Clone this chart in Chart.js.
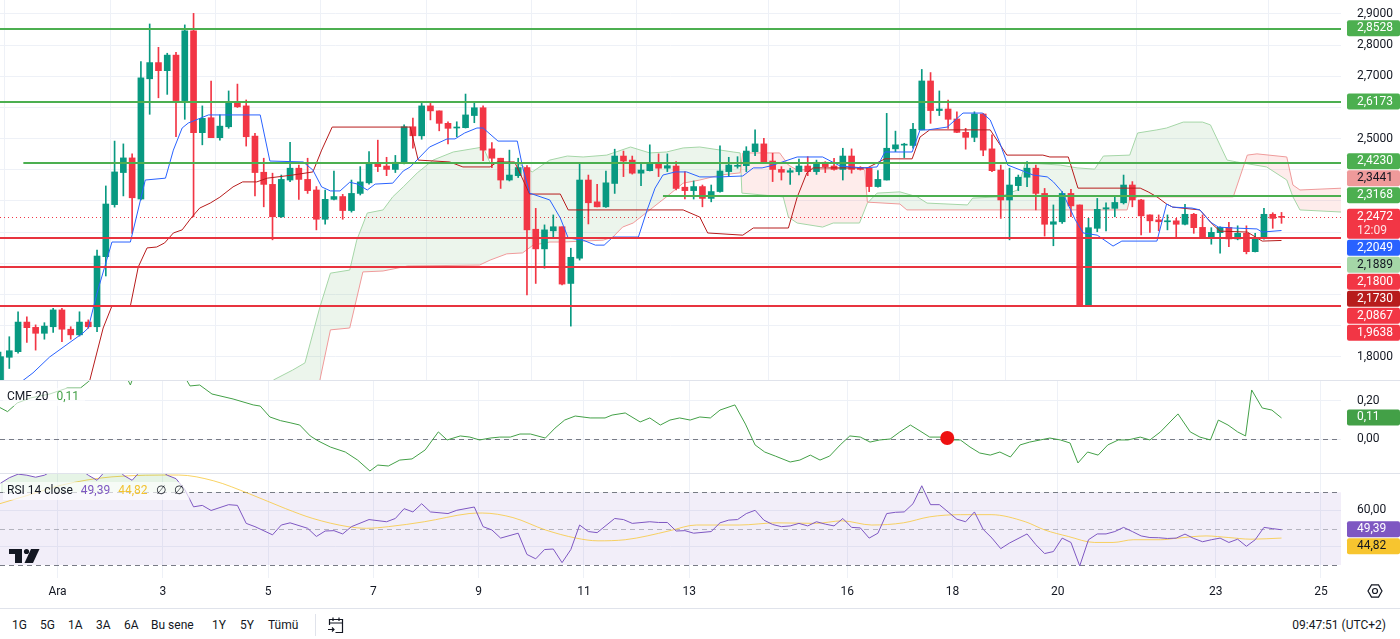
<!DOCTYPE html>
<html lang="tr">
<head>
<meta charset="utf-8">
<title>4s grafik</title>
<script src="https://cdn.jsdelivr.net/npm/chart.js@4.4.1/dist/chart.umd.min.js"></script>
<style>
  html, body { margin: 0; padding: 0; background: #fff; }
  #page { position: relative; width: 1400px; height: 639px; overflow: hidden;
          font-family: Roboto, "Noto Sans", sans-serif; color: #131722; }
  canvas { position: absolute; left: 0; }
  .sep { position: absolute; left: 0; width: 1400px; height: 1px; background: #e0e3eb; }
  .tb { position: absolute; top: 617px; font-size: 12px; line-height: 16px; color: #131722; white-space: nowrap; }
</style>
</head>
<body>
<div id="page">
  <canvas id="price" width="1400" height="380" style="top:0"></canvas>
  <div class="sep" style="top:380px"></div>
  <canvas id="cmf" width="1400" height="92" style="top:381px"></canvas>
  <div class="sep" style="top:473px"></div>
  <canvas id="rsi" width="1400" height="131" style="top:474px"></canvas>
  <div class="sep" style="top:608px"></div>

  <span class="tb" style="left:12px">1G</span>
  <span class="tb" style="left:40px">5G</span>
  <span class="tb" style="left:68px">1A</span>
  <span class="tb" style="left:96px">3A</span>
  <span class="tb" style="left:124px">6A</span>
  <span class="tb" style="left:151px">Bu sene</span>
  <span class="tb" style="left:212px">1Y</span>
  <span class="tb" style="left:240px">5Y</span>
  <span class="tb" style="left:268px">Tümü</span>
  <div style="position:absolute;left:315px;top:614px;width:1px;height:22px;background:#e0e3eb"></div>
  <svg style="position:absolute;left:325px;top:614px" width="22" height="22" viewBox="0 0 22 22" fill="none" stroke="#131722" stroke-width="1.2">
    <path d="M4.5 11V5.5h13v13h-7"/><path d="M8 3.5v3.5M14 3.5v3.5M4.5 9h13"/><path d="M3 15.5h6M7 13.5l2 2-2 2"/>
  </svg>
  <span class="tb" style="right:14px">09:47:51 (UTC+2)</span>
</div>

<script>
// 4 saatlik mumlar; bar 0 = 1 Ara 02:00 (UTC+2), bir gün = 6 bar
var firstBar = -7;

var opens = [
  1.693,1.798,1.816,1.911,1.894,1.875,1.896,1.950,1.888,1.870,
  1.911,1.896,2.121,2.288,2.391,2.438,2.306,2.692,2.744,2.718,
  2.768,2.622,2.846,2.519,2.567,2.503,2.538,2.617,2.605,2.508,
  2.392,2.353,2.249,2.367,2.405,2.369,2.335,2.241,2.305,2.314,
  2.269,2.324,2.358,2.421,2.412,2.401,2.421,2.538,2.509,2.605,
  2.589,2.549,2.534,2.535,2.574,2.599,2.467,2.437,2.367,2.381,
  2.407,2.209,2.146,2.204,2.217,2.035,2.116,2.367,2.297,2.281,
  2.356,2.444,2.431,2.389,2.397,2.421,2.405,2.412,2.344,2.333,
  2.346,2.308,2.330,2.394,2.411,2.413,2.458,2.483,2.428,2.401,
  2.392,2.394,2.412,2.394,2.424,2.412,2.401,2.444,2.407,2.405,
  2.346,2.367,2.467,2.479,2.478,2.528,2.685,2.590,2.595,2.563,
  2.520,2.504,2.579,2.467,2.399,2.303,2.349,2.376,2.405,2.324,
  2.225,2.233,2.324,2.287,1.964,2.212,2.274,2.276,2.294,2.351,
  2.303,2.255,2.239,2.233,2.236,2.225,2.257,2.215,2.185,2.198,
  2.215,2.178,2.196,2.137,2.180,2.257,2.249];
var highs = [
  1.815,1.864,1.944,1.928,1.902,1.909,1.955,1.955,1.896,1.944,
  1.918,2.142,2.348,2.492,2.483,2.451,2.747,2.868,2.793,2.774,
  2.777,2.865,2.902,2.605,2.685,2.576,2.653,2.675,2.624,2.517,
  2.437,2.389,2.383,2.488,2.415,2.437,2.346,2.335,2.396,2.321,
  2.367,2.410,2.458,2.495,2.440,2.446,2.544,2.566,2.613,2.613,
  2.589,2.554,2.554,2.643,2.617,2.605,2.487,2.437,2.463,2.437,
  2.413,2.276,2.223,2.255,2.217,2.148,2.419,2.383,2.353,2.396,
  2.466,2.460,2.444,2.424,2.480,2.451,2.451,2.426,2.394,2.364,
  2.351,2.351,2.477,2.440,2.442,2.474,2.528,2.501,2.453,2.410,
  2.405,2.434,2.442,2.431,2.426,2.437,2.469,2.467,2.410,2.407,
  2.397,2.581,2.524,2.485,2.549,2.722,2.712,2.653,2.624,2.586,
  2.533,2.586,2.581,2.512,2.415,2.405,2.383,2.426,2.415,2.340,
  2.287,2.330,2.337,2.287,2.244,2.308,2.294,2.312,2.383,2.362,
  2.305,2.255,2.255,2.255,2.244,2.289,2.260,2.255,2.214,2.217,
  2.231,2.220,2.220,2.196,2.276,2.262,2.263];
var lows = [
  1.680,1.762,1.811,1.846,1.821,1.856,1.878,1.848,1.856,1.866,
  1.891,1.880,2.059,2.280,2.316,2.196,2.303,2.578,2.631,2.642,
  2.506,2.562,2.249,2.480,2.503,2.495,2.533,2.600,2.476,2.316,
  2.281,2.175,2.247,2.362,2.305,2.324,2.207,2.225,2.303,2.241,
  2.264,2.319,2.354,2.394,2.381,2.391,2.419,2.469,2.498,2.560,
  2.525,2.483,2.506,2.534,2.551,2.429,2.407,2.340,2.364,2.375,
  1.998,2.035,2.084,2.180,2.030,1.898,2.110,2.226,2.281,2.279,
  2.324,2.378,2.386,2.349,2.396,2.378,2.394,2.335,2.306,2.306,
  2.281,2.297,2.328,2.378,2.405,2.394,2.445,2.421,2.362,2.367,
  2.353,2.383,2.381,2.385,2.391,2.399,2.367,2.389,2.399,2.330,
  2.344,2.367,2.458,2.439,2.469,2.528,2.549,2.574,2.533,2.519,
  2.466,2.490,2.445,2.394,2.244,2.175,2.333,2.346,2.271,2.187,
  2.156,2.228,2.249,1.964,1.964,2.201,2.204,2.249,2.290,2.281,
  2.191,2.199,2.204,2.207,2.182,2.223,2.196,2.183,2.161,2.132,
  2.153,2.175,2.130,2.136,2.177,2.212,2.228];
var closes = [
  1.800,1.819,1.911,1.893,1.875,1.898,1.950,1.888,1.870,1.911,
  1.896,2.123,2.290,2.393,2.438,2.310,2.695,2.744,2.718,2.768,
  2.622,2.846,2.519,2.565,2.503,2.540,2.617,2.602,2.506,2.391,
  2.353,2.249,2.369,2.405,2.369,2.333,2.241,2.305,2.314,2.269,
  2.324,2.361,2.421,2.410,2.401,2.424,2.538,2.509,2.605,2.589,
  2.549,2.533,2.536,2.576,2.599,2.463,2.437,2.367,2.383,2.407,
  2.207,2.146,2.207,2.217,2.033,2.119,2.367,2.294,2.281,2.358,
  2.444,2.428,2.389,2.399,2.421,2.405,2.413,2.340,2.333,2.346,
  2.308,2.330,2.396,2.415,2.414,2.460,2.483,2.424,2.401,2.392,
  2.397,2.412,2.394,2.424,2.410,2.401,2.444,2.401,2.401,2.346,
  2.369,2.469,2.480,2.480,2.530,2.685,2.590,2.595,2.562,2.520,
  2.504,2.579,2.463,2.397,2.303,2.351,2.376,2.405,2.324,2.225,
  2.233,2.324,2.284,1.964,2.214,2.273,2.278,2.295,2.351,2.303,
  2.252,2.236,2.233,2.236,2.225,2.257,2.214,2.185,2.199,2.215,
  2.178,2.196,2.137,2.180,2.257,2.244,2.2472];

// gün etiketleri (Aralık)
var dayTicks = [1, 3, 5, 7, 9, 11, 13, 16, 18, 20, 23, 25];
var dayLabels = ['Ara', '3', '5', '7', '9', '11', '13', '16', '18', '20', '23', '25'];

// Ichimoku: [bar, fiyat]
var conversionLine = [[-6,1.69],[-3.3,1.748],[-1.4,1.799],[2.4,1.876],[3,1.892],[4,2.004],[5.7,2.168],[7.8,2.168],[9.5,2.367],[11.8,2.373],[12.7,2.463],[13.7,2.534],[14.4,2.55],[16.7,2.576],[22.6,2.576],[23.7,2.428],[27.5,2.425],[28.6,2.399],[29.6,2.345],[30.6,2.332],[31.7,2.332],[32.8,2.36],[33.7,2.354],[34.8,2.335],[35.7,2.354],[37.7,2.357],[38.9,2.396],[39.7,2.409],[40.8,2.441],[41.9,2.473],[43.9,2.499],[44.8,2.499],[45.9,2.518],[47.3,2.534],[48,2.534],[49.7,2.492],[51.9,2.492],[52.5,2.409],[53.3,2.325],[55.6,2.303],[56.8,2.245],[57.7,2.181],[59.4,2.174],[60.8,2.158],[61.8,2.158],[62.8,2.184],[65.7,2.184],[66.7,2.271],[67.6,2.341],[68.5,2.383],[69.9,2.393],[71.2,2.393],[72.7,2.377],[75,2.377],[77.6,2.38],[78.8,2.406],[79.8,2.406],[80.7,2.412],[81.8,2.422],[83.8,2.441],[86.7,2.441],[88.7,2.412],[91.3,2.406],[92.9,2.409],[93.8,2.457],[96.9,2.457],[97.8,2.528],[98.7,2.528],[100.9,2.537],[102.7,2.582],[104.9,2.582],[105.8,2.56],[106.9,2.486],[107.8,2.415],[109.8,2.393],[110.7,2.383],[112.3,2.377],[113,2.361],[114,2.329],[115.5,2.239],[116.4,2.197],[118,2.19],[119.8,2.155],[120.8,2.171],[124.8,2.171],[125.9,2.29],[126.6,2.28],[128.8,2.277],[129.7,2.271],[130.9,2.232],[131.8,2.216],[133.5,2.213],[136.2,2.21],[136.8,2.2],[139,2.2049]];
var baseLine = [[2.6,1.661],[4.7,1.892],[5.7,1.963],[7.8,1.963],[8.7,2.088],[9.7,2.149],[10.8,2.152],[11.7,2.165],[12.7,2.197],[13.7,2.207],[14.8,2.248],[15.7,2.277],[16.9,2.293],[18,2.312],[19.5,2.345],[20.6,2.361],[22.2,2.361],[23.4,2.373],[26.3,2.383],[28.6,2.393],[29.6,2.463],[30.8,2.537],[39.7,2.537],[40.6,2.431],[44.2,2.425],[45.7,2.409],[48.8,2.409],[49.6,2.425],[51.6,2.425],[53.3,2.322],[56.8,2.322],[57.7,2.271],[70.8,2.271],[72.7,2.248],[73.6,2.197],[77.6,2.19],[78.8,2.213],[82.8,2.213],[83.8,2.312],[84.9,2.39],[85.6,2.406],[91.8,2.406],[92.9,2.422],[93.8,2.435],[96.9,2.435],[97.8,2.505],[98.9,2.528],[105.8,2.528],[107.7,2.447],[111.8,2.447],[112.6,2.441],[114.7,2.441],[115.8,2.341],[122.9,2.341],[123.8,2.329],[124.8,2.313],[125.9,2.29],[126.6,2.28],[129.7,2.271],[131.2,2.223],[132,2.203],[135.1,2.2],[136.8,2.171],[139,2.173]];
var spanA = [[22,1.661],[24.1,1.725],[26.3,1.757],[27.7,1.78],[29.4,1.959],[30.6,2.068],[32.8,2.078],[33.6,2.174],[34.8,2.261],[36.6,2.271],[37.7,2.313],[38.9,2.345],[40.5,2.39],[42.3,2.431],[44.6,2.457],[48,2.473],[48.8,2.422],[51.9,2.422],[53.6,2.393],[55.6,2.431],[57.6,2.444],[59.4,2.441],[62.1,2.447],[64.8,2.473],[67,2.454],[68.9,2.457],[70.8,2.47],[72.7,2.473],[76.5,2.457],[77.3,2.454],[77.5,2.325],[82.2,2.313],[82.8,2.248],[83.8,2.229],[86.7,2.216],[87.9,2.229],[90.9,2.229],[91.8,2.293],[92.9,2.325],[95.5,2.329],[97.5,2.313],[98.6,2.293],[103.2,2.287],[103.8,2.309],[106.9,2.313],[108.9,2.335],[109.8,2.422],[113.8,2.415],[115.7,2.406],[117.7,2.402],[118.7,2.444],[121.7,2.447],[122.6,2.518],[124.8,2.528],[125.9,2.534],[127.8,2.553],[130,2.553],[130.9,2.544],[132.8,2.431],[133.9,2.425],[137.3,2.409],[139.6,2.367],[140.3,2.313],[141.1,2.271],[146,2.264]];
var spanB = [[22,1.5],[29.2,1.661],[29.4,1.725],[30.6,1.886],[32.8,1.892],[34.3,2.072],[36.6,2.075],[38.9,2.088],[39.4,2.091],[47.6,2.094],[48.8,2.11],[50.7,2.13],[52.5,2.133],[53.7,2.158],[55.6,2.168],[57.1,2.168],[61.7,2.174],[62.8,2.184],[63.9,2.216],[65.1,2.229],[67,2.271],[68.9,2.313],[70.8,2.357],[72.7,2.367],[75,2.383],[77.3,2.39],[77.6,2.454],[81.8,2.454],[82.8,2.415],[83.8,2.399],[90.9,2.406],[91.5,2.399],[91.8,2.296],[95.5,2.29],[96.3,2.271],[121.4,2.271],[121.7,2.303],[122.6,2.313],[133.5,2.313],[135.1,2.447],[136.2,2.451],[139.6,2.441],[140.3,2.351],[141.1,2.335],[146,2.341]];

// yatay seviyeler
var levels = [2.8528, 2.6173, 2.4230, 2.3168, 2.1800, 2.0867, 1.9638];
var levelFrom = [null, null, -4.4, 68.5, null, null, null];
var levelColors = ['#4caf50', '#4caf50', '#4caf50', '#4caf50', '#e8343f', '#e8343f', '#e8343f'];

var priceTicks = [2.9, 2.8, 2.7, 2.6, 2.5, 2.4, 2.3, 2.2, 2.1, 2.0, 1.9, 1.8];
var priceMarks = [2.8528, 2.6173, 2.4230, 2.3441, 2.3168, 2.2472, 2.2049, 2.1889, 2.1800, 2.1730, 2.0867, 1.9638];
var countdown = '12:09';

// CMF 20: [bar, değer]
var cmfLine = [[-7.1,0.165],[-6.2,0.143],[-5.1,0.188],[-3.6,0.214],[-1.4,0.235],[0.6,0.266],[2.1,0.266],[3,0.299],[4.3,0.35],[6.1,0.36],[7.4,0.32],[7.8,0.282],[8.1,0.32],[11.2,0.37],[14,0.324],[14.6,0.277],[15.7,0.282],[17.1,0.235],[19.5,0.209],[21.8,0.178],[22.6,0.172],[23.7,0.115],[24.9,0.096],[26,0.085],[27.1,0.073],[28.3,0.016],[29.2,-0.01],[30.6,-0.042],[32.3,-0.068],[33.7,-0.11],[35.1,-0.167],[36,-0.136],[37.2,-0.141],[38.5,-0.11],[39.9,-0.104],[41.4,-0.057],[42.9,0.037],[43.9,-0.005],[45.4,0.016],[46.5,0.01],[47.6,-0.005],[48.8,0.005],[49.9,0.01],[51.1,0.01],[52.2,0.026],[53.4,0.026],[55.1,0.005],[56.2,0.057],[57.3,0.099],[58.5,0.12],[60.2,0.11],[61.9,0.11],[62.7,0.125],[64.2,0.136],[65.9,0.089],[67,0.11],[68.2,0.073],[69.3,0.099],[70.4,0.11],[71.6,0.099],[72.7,0.115],[73.9,0.11],[75,0.151],[76.7,0.178],[77.9,0.078],[79,-0.031],[80.1,-0.068],[81.3,-0.089],[83,-0.12],[84.1,-0.11],[85.3,-0.084],[86.4,-0.11],[87.5,-0.089],[88.7,-0.031],[89.8,0.016],[91,0.01],[92.1,-0.016],[93.2,-0.005],[94.4,0],[95.5,0.037],[96.7,0.073],[97.8,0.042],[98.9,0.01],[100.1,0.01],[101.2,-0.005],[102.4,-0.005],[103.5,-0.042],[104.6,-0.073],[105.8,-0.084],[106.9,-0.068],[108.1,-0.094],[109.2,-0.031],[110.3,-0.016],[111.5,-0.005],[112.6,0.005],[113.8,-0.005],[114.9,-0.021],[115.8,-0.125],[116.9,-0.068],[118.1,-0.084],[119.2,-0.031],[120.4,-0.005],[121.5,-0.005],[122.9,0.01],[124,-0.005],[125.2,0.037],[126.3,0.089],[127.2,0.131],[128.6,0.037],[129.7,0.01],[130.9,-0.005],[131.8,0.099],[132.9,0.073],[134,0.037],[134.9,0.016],[135.6,0.256],[136.8,0.162],[137.9,0.151],[139,0.11]];
var cmfTicks = [0.2, 0];
var cmfMarks = [0.11];
var cmfMarker = [[100.9, 0.005]];

// RSI 14 ve ortalaması
var rsiLine = [[-7,75],[-6,78],[-5,80],[-4,79.4],[-3,78.3],[-2,79.4],[-1,82],[0,83],[1,84],[2,83],[3,79.4],[4,76.6],[5,82],[6,86],[7,79.4],[8,76.6],[9,82],[10,84],[11,83],[12,79.4],[13,77.5],[14,71.5],[15,62],[16,62.8],[17,60],[19,63.2],[20,62.8],[21,52.9],[22,51.1],[24,46.6],[25,52],[26,53.2],[28,50.2],[29,45.7],[30,48.7],[31,48.9],[32,47.1],[33,51.1],[35,55],[37,53.8],[38,55.6],[39,61],[40,59.2],[41,63.7],[42,59.2],[44,58.3],[45,60.1],[47,61.9],[48,51.1],[49,49.3],[50,44.8],[52,47.5],[53,35.8],[54,33.4],[55,38.5],[56,38.8],[57,31.3],[58,38.5],[59,52],[60,48.4],[61,47.8],[63,55.6],[64,55],[65,52.9],[67,53.8],[68,53.4],[69,53.4],[70,48.7],[71,48.9],[72,47.5],[74,48.4],[75,53.2],[76,54.7],[77,55],[78,58.3],[79,60.1],[80,54.7],[81,52.3],[82,51.1],[83,51.5],[84,52.9],[85,51.5],[86,53.8],[87,52.5],[88,51.5],[89,55.6],[90,50.7],[91,50.4],[92,44.8],[93,47.5],[94,58.3],[95,59],[96,59.2],[97,63.7],[98,73.6],[99,63.2],[100,63.2],[101,59.2],[102,55.2],[103,53.8],[104,59.2],[105,49.6],[106,44.8],[107,39],[108,42.1],[110,47.1],[111,41.2],[112,36.3],[113,37.4],[114,44.8],[115,42.4],[116,29.5],[117,43.9],[118,47.1],[119,47.1],[120,48.4],[121,50.7],[122,48.4],[123,46],[124,45.1],[125,45],[126,44.6],[127,44.8],[128,47],[129,44.6],[130,42.8],[131,43.9],[132,44.8],[133,42.4],[134,44.2],[135,40.3],[136,43.9],[137,50.7],[138,50],[139,49.39]];
var rsiMa = [[-7.1,63.7],[-4,68.2],[0,74],[5.7,78.5],[13.3,79.5],[17.3,76.3],[21.4,69.1],[25.5,61],[28.6,55.6],[32.6,51.1],[34.7,50.2],[37.2,51.1],[41.3,53.8],[46.4,58.3],[47.9,58.6],[51.4,56.1],[55.1,49.3],[58.6,44.8],[61.1,43.3],[64.2,43.9],[66.7,46],[69.3,48.9],[72.3,52],[77.2,52],[81.5,53.2],[85.9,52.9],[88.9,54.3],[92.3,52],[95.9,53.2],[98.9,56.5],[102.4,57.7],[105.9,57.7],[109.8,53.8],[112,49.3],[114.7,45.7],[117.7,42.4],[119.8,42.4],[122.1,43.9],[125.2,43.9],[127.2,44.8],[130.4,46],[133,45.1],[135.5,44.2],[139,44.82]];
var rsiTicks = [60, 40];
var rsiMarks = [49.39, 44.82];
var rsiLevels = [70, 50, 30];

// --- çizim ---
var FONT = '12px Roboto, "Noto Sans", sans-serif';
var UP = '#089981', DOWN = '#f23645';
Chart.defaults.font.family = 'Roboto, "Noto Sans", sans-serif';
Chart.defaults.font.size = 12;
Chart.defaults.color = '#131722';

function pts(list) { return list.map(function (p) { return { x: p[0], y: p[1] }; }); }
function dayToBar(k) { return 6 * (k - 1) - 0.5; }
function fmt(v, dec) { return v.toFixed(dec).replace('.', ','); }

function roundRect(ctx, x, y, w, h, r) {
  ctx.beginPath();
  ctx.moveTo(x + r, y);
  ctx.arcTo(x + w, y, x + w, y + h, r);
  ctx.arcTo(x + w, y + h, x, y + h, r);
  ctx.arcTo(x, y + h, x, y, r);
  ctx.arcTo(x, y, x + w, y, r);
  ctx.closePath();
}

function xScale(showLabels) {
  return {
    type: 'linear', min: -7.06, max: 145.78, offset: false,
    grid: { color: '#eef1f7', drawTicks: false },
    border: { display: false },
    afterBuildTicks: function (s) { s.ticks = dayTicks.map(function (k) { return { value: dayToBar(k) }; }); },
    ticks: {
      display: showLabels, padding: 7, autoSkip: false, maxRotation: 0, color: '#131722',
      callback: function (v) {
        var i = dayTicks.findIndex(function (k) { return Math.abs(dayToBar(k) - v) < 0.01; });
        return i >= 0 ? dayLabels[i] : '';
      }
    },
    afterFit: function (s) { s.height = showLabels ? 27 : 0; }
  };
}

function yScale(min, max, ticks) {
  return {
    type: 'linear', position: 'right', min: min, max: max,
    grid: { color: '#eef1f7', drawTicks: false },
    border: { display: false },
    afterBuildTicks: function (s) { s.ticks = ticks.map(function (v) { return { value: v }; }); },
    ticks: { display: false },
    afterFit: function (s) { s.width = 59; }
  };
}

// sağ eksen etiketleri + renkli kutular (üst üste binenler kaydırılır)
function axisLabels(ticks, dec, marks, styles, anchor, sub) {
  return {
    id: 'axisLabels',
    afterDraw: function (chart) {
      var ctx = chart.ctx, ys = chart.scales.y, x0 = chart.chartArea.right;
      var boxes = marks.map(function (v, i) {
        return { v: v, i: i, h: (sub && i === anchor) ? 31 : 17, top: ys.getPixelForValue(v) - 8.5 };
      });
      for (var i = anchor + 1; i < boxes.length; i++) boxes[i].top = Math.max(boxes[i].top, boxes[i - 1].top + boxes[i - 1].h);
      for (var j = anchor - 1; j >= 0; j--) boxes[j].top = Math.min(boxes[j].top, boxes[j + 1].top - boxes[j].h);
      ctx.save();
      ctx.font = FONT; ctx.textBaseline = 'middle'; ctx.textAlign = 'left';
      ctx.fillStyle = '#131722';
      ticks.forEach(function (t) {
        var y = ys.getPixelForValue(t);
        if (y < 6 || y > chart.chartArea.bottom - 4) return;
        if (boxes.some(function (b) { return y + 6 > b.top && y - 6 < b.top + b.h; })) return;
        ctx.fillText(fmt(t, dec), x0 + 16, y);
      });
      boxes.forEach(function (b) {
        var st = styles[b.i];
        ctx.fillStyle = st.bg;
        roundRect(ctx, x0 + 6, b.top, 53, b.h - 1, 2);
        ctx.fill();
        ctx.fillStyle = st.fg;
        ctx.fillText(fmt(b.v, dec), x0 + 16, b.top + 8);
        if (sub && b.i === anchor) { ctx.globalAlpha = 0.85; ctx.fillText(sub, x0 + 16, b.top + 22); ctx.globalAlpha = 1; }
      });
      ctx.restore();
    }
  };
}

function legend(ctx, x, y, parts) {
  ctx.save();
  ctx.font = FONT; ctx.textBaseline = 'middle'; ctx.textAlign = 'left';
  var w = parts.reduce(function (s, p) { return s + ctx.measureText(p[0]).width + 8; }, 0);
  ctx.fillStyle = 'rgba(255,255,255,0.65)';
  ctx.fillRect(x - 4, y - 9, w + 2, 18);
  parts.forEach(function (p) { ctx.fillStyle = p[1]; ctx.fillText(p[0], x, y); x += ctx.measureText(p[0]).width + 8; });
  ctx.restore();
}

function hline(ctx, a, y, color, dash) {
  ctx.save();
  ctx.strokeStyle = color; ctx.lineWidth = 1; ctx.setLineDash(dash);
  ctx.beginPath(); ctx.moveTo(a.left, Math.round(y) + 0.5); ctx.lineTo(a.right, Math.round(y) + 0.5); ctx.stroke();
  ctx.restore();
}

var common = {
  responsive: false, animation: false, events: [], devicePixelRatio: 1,
  layout: { padding: 0, autoPadding: false },
  plugins: { legend: { display: false }, tooltip: { enabled: false } }
};
function opts(x, y) { return Object.assign({}, common, { scales: { x: x, y: y } }); }
function lineSet(data, color, order, extra) {
  return Object.assign({ type: 'line', data: pts(data), borderColor: color, borderWidth: 1, pointRadius: 0, fill: false, tension: 0, order: order }, extra || {});
}

var bodies = opens.map(function (o, i) { return { x: firstBar + i, y: [o, closes[i]], up: closes[i] >= o }; });
var wicks = opens.map(function (o, i) { return { x: firstBar + i, y: [lows[i], highs[i]], up: closes[i] >= o }; });
function candleColor(c) { return (c.raw && c.raw.up) ? UP : DOWN; }

var pricePane = {
  id: 'pricePane',
  beforeDatasetsDraw: function (chart) {
    hline(chart.ctx, chart.chartArea, chart.scales.y.getPixelForValue(closes[closes.length - 1]), DOWN, [1, 3]);
  },
  afterDatasetsDraw: function (chart) {
    var ctx = chart.ctx, a = chart.chartArea, x = chart.scales.x, y = chart.scales.y;
    ctx.save(); ctx.lineWidth = 2;
    levels.forEach(function (v, i) {
      var ly = Math.round(y.getPixelForValue(v));
      var lx = levelFrom[i] === null ? a.left : x.getPixelForValue(levelFrom[i]);
      ctx.strokeStyle = levelColors[i];
      ctx.beginPath(); ctx.moveTo(lx, ly); ctx.lineTo(a.right, ly); ctx.stroke();
    });
    ctx.restore();
  }
};

new Chart(document.getElementById('price'), {
  type: 'line',
  data: { datasets: [
    lineSet(spanA, '#a5d6a7', 10, { fill: { target: '+1', above: 'rgba(67,160,71,0.1)', below: 'rgba(244,67,54,0.1)' } }),
    lineSet(spanB, '#ef9a9a', 9),
    { type: 'bar', data: wicks, backgroundColor: candleColor, barThickness: 1, grouped: false, order: 6 },
    { type: 'bar', data: bodies, backgroundColor: candleColor, barThickness: 6, grouped: false, minBarLength: 1, order: 5 },
    lineSet(baseLine, '#b71c1c', 2),
    lineSet(conversionLine, '#2962ff', 1)
  ] },
  options: opts(xScale(false), yScale(1.72504, 2.94494, priceTicks)),
  plugins: [pricePane, axisLabels(priceTicks, 4, priceMarks, [
    { bg: '#4caf50', fg: '#fff' }, { bg: '#4caf50', fg: '#fff' }, { bg: '#4caf50', fg: '#fff' },
    { bg: '#ef9a9a', fg: '#131722' }, { bg: '#4caf50', fg: '#fff' }, { bg: '#f23645', fg: '#fff' },
    { bg: '#2962ff', fg: '#fff' }, { bg: '#a5d6a7', fg: '#131722' }, { bg: '#f23645', fg: '#fff' },
    { bg: '#b71c1c', fg: '#fff' }, { bg: '#f23645', fg: '#fff' }, { bg: '#f23645', fg: '#fff' }
  ], 5, countdown)]
});

var cmfPane = {
  id: 'cmfPane',
  beforeDatasetsDraw: function (chart) {
    hline(chart.ctx, chart.chartArea, chart.scales.y.getPixelForValue(0), '#787b86', [5, 4]);
  },
  afterDraw: function (chart) {
    legend(chart.ctx, 7, 16, [['CMF 20', '#131722'], [fmt(cmfLine[cmfLine.length - 1][1], 2), '#43a047']]);
  }
};

new Chart(document.getElementById('cmf'), {
  type: 'line',
  data: { datasets: [
    lineSet(cmfLine, '#43a047', 2),
    { type: 'line', data: pts(cmfMarker), showLine: false, pointRadius: 7, pointBackgroundColor: '#ee1111', pointBorderWidth: 0, order: 1 }
  ] },
  options: opts(xScale(false), yScale(-0.1775, 0.3029, cmfTicks)),
  plugins: [cmfPane, axisLabels(cmfTicks, 2, cmfMarks, [{ bg: '#43a047', fg: '#fff' }], 0, null)]
});

var rsiPane = {
  id: 'rsiPane',
  beforeDatasetsDraw: function (chart) {
    var ctx = chart.ctx, a = chart.chartArea, y = chart.scales.y;
    var top = y.getPixelForValue(rsiLevels[0]), bot = y.getPixelForValue(rsiLevels[2]);
    ctx.save();
    ctx.fillStyle = 'rgba(126,87,194,0.1)';
    ctx.fillRect(a.left, top, a.right - a.left, bot - top);
    ctx.restore();
    hline(ctx, a, top, '#787b86', [5, 4]);
    hline(ctx, a, y.getPixelForValue(rsiLevels[1]), 'rgba(120,123,134,0.5)', [5, 4]);
    hline(ctx, a, bot, '#787b86', [5, 4]);
  },
  afterDraw: function (chart) {
    var ctx = chart.ctx;
    legend(ctx, 7, 17, [['RSI 14 close', '#131722'], [fmt(rsiMarks[0], 2), '#7e57c2'], [fmt(rsiMarks[1], 2), '#f2c230'], ['\u2205', '#131722'], ['\u2205', '#131722']]);
    // logo
    ctx.save();
    ctx.fillStyle = '#131722';
    ctx.fillRect(9, 75, 13, 5);
    ctx.fillRect(15, 75, 7, 14);
    ctx.beginPath(); ctx.arc(26.5, 77.5, 2.6, 0, Math.PI * 2); ctx.fill();
    ctx.beginPath(); ctx.moveTo(31, 75); ctx.lineTo(39.5, 75); ctx.lineTo(33, 89); ctx.lineTo(24.5, 89); ctx.closePath(); ctx.fill();
    // ayar simgesi
    ctx.strokeStyle = '#131722'; ctx.lineWidth = 1.2;
    ctx.beginPath();
    for (var k = 0; k < 6; k++) {
      var ang = k * Math.PI / 3;
      var px = 1375 + 7 * Math.cos(ang), py = 117 + 7 * Math.sin(ang);
      if (k === 0) ctx.moveTo(px, py); else ctx.lineTo(px, py);
    }
    ctx.closePath(); ctx.stroke();
    ctx.beginPath(); ctx.arc(1375, 117, 2.5, 0, Math.PI * 2); ctx.stroke();
    ctx.restore();
  }
};

new Chart(document.getElementById('rsi'), {
  type: 'line',
  data: { datasets: [
    lineSet(rsiLine, '#7e57c2', 1, { fill: { target: { value: rsiLevels[0] }, above: 'rgba(76,175,80,0.14)', below: 'rgba(0,0,0,0)' } }),
    lineSet(rsiMa, 'rgba(247,200,60,0.8)', 2, { cubicInterpolationMode: 'monotone' })
  ] },
  options: opts(xScale(true), yScale(22.85, 80.07, rsiTicks)),
  plugins: [rsiPane, axisLabels(rsiTicks, 2, rsiMarks, [{ bg: '#7e57c2', fg: '#fff' }, { bg: '#f7c52f', fg: '#131722' }], 0, null)]
});
</script>
</body>
</html>
